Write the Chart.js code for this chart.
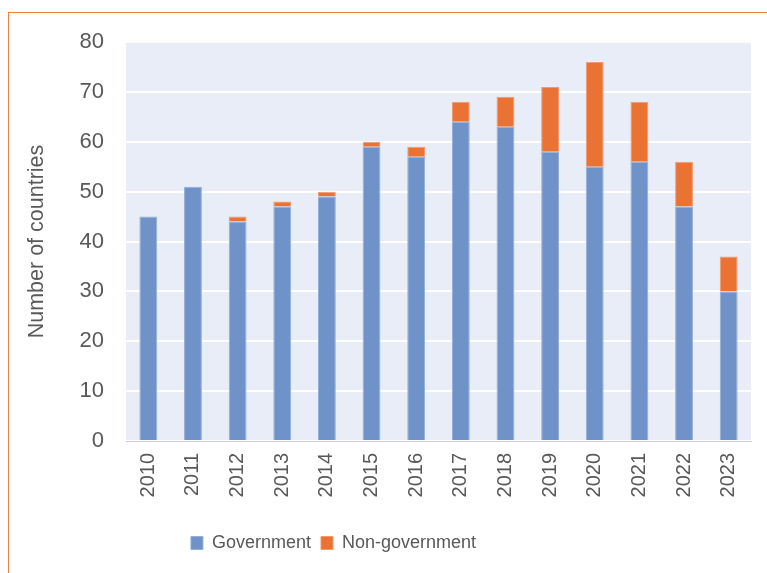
<!DOCTYPE html>
<html>
<head>
<meta charset="utf-8">
<script src="https://cdn.jsdelivr.net/npm/chart.js@4.4.1/dist/chart.umd.min.js"></script>
<style>
  html, body { margin: 0; padding: 0; background: #fff; }
  #frame {
    position: absolute; left: 8px; top: 12px; right: -2px; bottom: -2px;
    border-top: 1.5px solid #EE8046; border-left: 1.5px solid #EE8046;
  }
  #wrap { position: absolute; left: 0; top: 0; width: 767px; height: 573px; }
</style>
</head>
<body>
<div id="frame"></div>
<div id="wrap"><canvas id="chart"></canvas></div>
<script>
// Data
const years = ['2010', '2011', '2012', '2013', '2014', '2015', '2016',
               '2017', '2018', '2019', '2020', '2021', '2022', '2023'];
const government    = [45, 51, 44, 47, 49, 59, 57, 64, 63, 58, 55, 56, 47, 30];
const nonGovernment = [0, 0, 1, 1, 1, 1, 2, 4, 6, 13, 21, 12, 9, 7];
const yTicks = [0, 10, 20, 30, 40, 50, 60, 70, 80];

const GREY = '#595959';
const PLOT_BG = '#E9EDF7';
const FONT = '"Liberation Sans", Arial, sans-serif';

// Fill the plot area with the pale blue background
const plotBackground = {
    id: 'plotBackground',
    beforeDraw(chart) {
        const { ctx, chartArea: a } = chart;
        ctx.save();
        ctx.fillStyle = PLOT_BG;
        ctx.fillRect(a.left, a.top, a.right - a.left, a.bottom - a.top);
        ctx.restore();
    }
};

// Legend sits left of the canvas centre in the reference
const legendShift = {
    id: 'legendShift',
    afterLayout(chart) {
        chart.legend.left -= 42;
        chart.legend.right -= 42;
    }
};

new Chart(document.getElementById('chart'), {
    type: 'bar',
    data: {
        labels: years,
        datasets: [
            {
                label: 'Government',
                data: government,
                backgroundColor: '#6F93C8',
                borderColor: '#93AED8',
                borderWidth: 1,
                borderSkipped: 'bottom'
            },
            {
                label: 'Non-government',
                data: nonGovernment,
                backgroundColor: '#EA7233',
                borderColor: '#F09A6E',
                borderWidth: 1,
                borderSkipped: 'bottom'
            }
        ]
    },
    options: {
        responsive: true,
        maintainAspectRatio: false,
        animation: false,
        layout: { padding: { left: 0, right: 16, top: 42, bottom: 11 } },
        datasets: { bar: { barPercentage: 0.4, categoryPercentage: 1.0 } },
        plugins: {
            tooltip: { enabled: false },
            legend: {
                position: 'bottom',
                labels: {
                    boxWidth: 12,
                    boxHeight: 13,
                    padding: 10,
                    color: GREY,
                    font: { family: FONT, size: 18 }
                }
            }
        },
        scales: {
            x: {
                stacked: true,
                grid: { display: false, drawTicks: false },
                border: { display: true, color: '#C8CCD4', width: 1 },
                ticks: {
                    color: GREY,
                    minRotation: 90,
                    maxRotation: 90,
                    padding: 12,
                    font: { family: FONT, size: 20 }
                },
                afterFit(scale) { scale.height = 83; }
            },
            y: {
                stacked: true,
                min: 0,
                max: 80,
                afterBuildTicks(scale) { scale.ticks = yTicks.map(v => ({ value: v })); },
                grid: { color: '#FFFFFF', lineWidth: 2, drawTicks: false },
                border: { display: false },
                ticks: {
                    color: GREY,
                    padding: 22,
                    font: { family: FONT, size: 22 }
                },
                title: {
                    display: true,
                    text: 'Number of countries',
                    color: GREY,
                    padding: { top: 24, bottom: 0 },
                    font: { family: FONT, size: 21.5 }
                },
                afterFit(scale) { scale.width = 126; }
            }
        }
    },
    plugins: [plotBackground, legendShift]
});
</script>
</body>
</html>
